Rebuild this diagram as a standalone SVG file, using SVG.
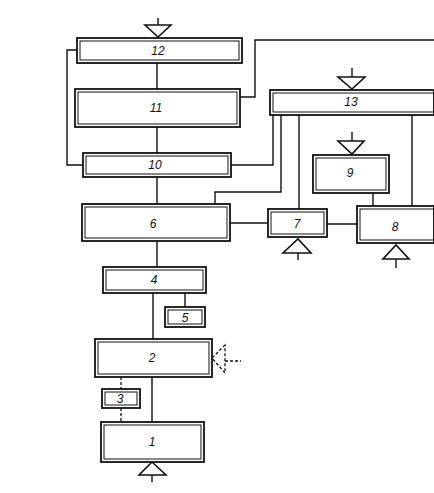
<svg xmlns="http://www.w3.org/2000/svg" width="434" height="493" viewBox="0 0 434 493">
<style>
.o{fill:#fff;stroke:#111;stroke-width:1.8}
.i{fill:none;stroke:#111;stroke-width:1}
.t{font-family:"Liberation Sans",Arial,sans-serif;font-style:italic;font-size:12px;fill:#111;text-anchor:middle;dominant-baseline:central}
.l{fill:none;stroke:#111;stroke-width:1.4}
.d{fill:none;stroke:#111;stroke-width:1.3;stroke-dasharray:3 2}
.tr{fill:#fff;stroke:#111;stroke-width:1.6;stroke-linejoin:miter}
</style>
<rect width="434" height="493" fill="#fff"/>
<g id="connectors">
<path class="l" d="M157 63V89M157 127V153M157 177V204M157 241V267M153 293V339M152 377V422M185 293V307"/>
<path class="l" d="M77 50H67V165H83"/>
<path class="l" d="M240 97H255V40H434"/>
<path class="l" d="M231 165H273V115"/>
<path class="l" d="M215 204V192H281V115"/>
<path class="l" d="M299 115V209M412 115V206M373 193V206"/>
<path class="l" d="M230 223H268M327 224H357"/>
<path class="d" d="M121 377V389M121 408V422"/>
<path class="d" d="M225 361H241"/>
<path class="d" d="M225 345L212 358L225 373Z"/>
<path class="l" d="M158 18V25M352 68V77M352 132V141M298 253V260M396 259V268M152 475V482"/>
<polygon class="tr" points="145,25 171,25 158,37"/>
<polygon class="tr" points="338,77 365,77 352,89"/>
<polygon class="tr" points="338,141 364,141 352,154"/>
<polygon class="tr" points="283,253 311,253 298,239"/>
<polygon class="tr" points="383,259 409,259 396,245"/>
<polygon class="tr" points="139,475 166,475 152,462"/>
</g>
<g id="n12"><rect class="o" x="77" y="38" width="165" height="25"/><rect class="i" x="80" y="41" width="159" height="19"/><text class="t" x="158" y="51">12</text></g>
<g id="n11"><rect class="o" x="75" y="89" width="165" height="38"/><rect class="i" x="78" y="92" width="159" height="32"/><text class="t" x="156" y="108">11</text></g>
<g id="n10"><rect class="o" x="83" y="153" width="148" height="24"/><rect class="i" x="86" y="156" width="142" height="18"/><text class="t" x="155" y="165">10</text></g>
<g id="n13"><rect class="o" x="270" y="90" width="164" height="25"/><rect class="i" x="273" y="93" width="161" height="19"/><text class="t" x="351" y="102">13</text></g>
<g id="n9"><rect class="o" x="313" y="155" width="76" height="38"/><rect class="i" x="316" y="158" width="70" height="32"/><text class="t" x="350" y="173">9</text></g>
<g id="n6"><rect class="o" x="82" y="204" width="148" height="37"/><rect class="i" x="85" y="207" width="142" height="31"/><text class="t" x="153" y="224">6</text></g>
<g id="n7"><rect class="o" x="268" y="209" width="59" height="28"/><rect class="i" x="271" y="212" width="53" height="22"/><text class="t" x="297" y="224">7</text></g>
<g id="n8"><rect class="o" x="357" y="206" width="77" height="37"/><rect class="i" x="360" y="209" width="74" height="31"/><text class="t" x="395" y="227">8</text></g>
<g id="n4"><rect class="o" x="103" y="267" width="103" height="26"/><rect class="i" x="106" y="270" width="97" height="20"/><text class="t" x="154" y="280">4</text></g>
<g id="n5"><rect class="o" x="165" y="307" width="40" height="20"/><rect class="i" x="168" y="310" width="34" height="14"/><text class="t" x="185" y="318">5</text></g>
<g id="n2"><rect class="o" x="95" y="339" width="117" height="38"/><rect class="i" x="98" y="342" width="111" height="32"/><text class="t" x="152" y="358">2</text></g>
<g id="n3"><rect class="o" x="102" y="389" width="38" height="19"/><rect class="i" x="105" y="392" width="32" height="13"/><text class="t" x="120" y="399">3</text></g>
<g id="n1"><rect class="o" x="101" y="422" width="103" height="40"/><rect class="i" x="104" y="425" width="97" height="34"/><text class="t" x="152" y="442">1</text></g>
</svg>
